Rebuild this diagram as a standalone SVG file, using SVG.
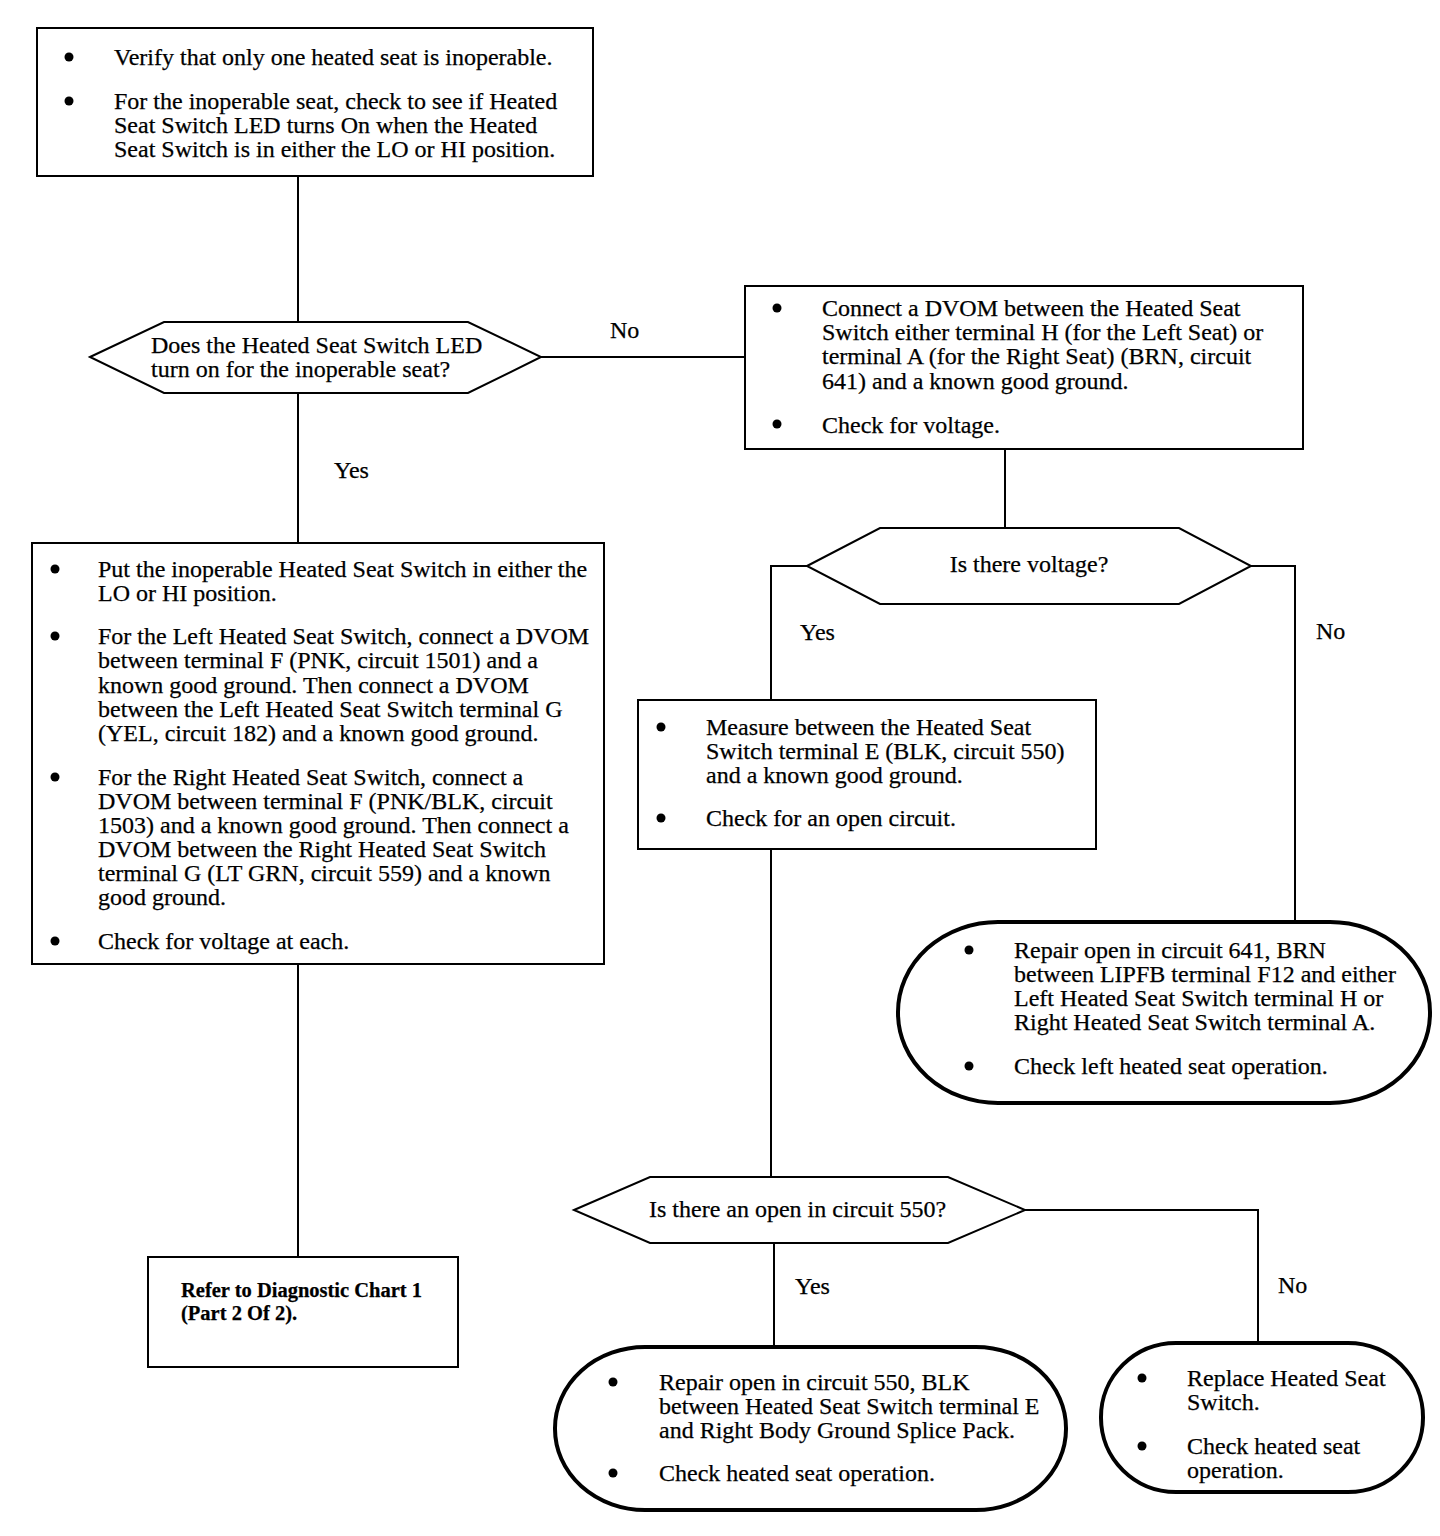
<svg xmlns="http://www.w3.org/2000/svg" width="1440" height="1536" viewBox="0 0 1440 1536">
<defs>
<style>
.bx{fill:#fff;stroke:#000;stroke-width:2}
.ov{fill:#fff;stroke:#000;stroke-width:4}
.cn{fill:none;stroke:#000;stroke-width:2}
text{font-family:"Liberation Serif","Times New Roman",serif;font-size:24px;fill:#000;stroke:#000;stroke-width:0.25}
.b{font-weight:bold;font-size:20.5px}
.dot{fill:#000}
</style>
</defs>
<rect width="1440" height="1536" fill="#fff"/>
<g id="connectors">
<path class="cn" d="M298,176 V322"/>
<path class="cn" d="M298,393 V543"/>
<path class="cn" d="M541,357 H745"/>
<path class="cn" d="M1005,449 V528"/>
<path class="cn" d="M807,566 H771 V700"/>
<path class="cn" d="M1251,566 H1295 V922"/>
<path class="cn" d="M771,849 V1177"/>
<path class="cn" d="M298,964 V1257"/>
<path class="cn" d="M774,1243 V1347"/>
<path class="cn" d="M1025,1210 H1258 V1343"/>
<text x="610" y="338">No</text>
<text x="334" y="478">Yes</text>
<text x="800" y="640">Yes</text>
<text x="1316" y="639">No</text>
<text x="795" y="1294">Yes</text>
<text x="1278" y="1293">No</text>
</g>
<g id="start">
<rect class="bx" x="37" y="28" width="556" height="148"/>
<circle class="dot" cx="69" cy="57" r="4.5"/>
<text x="114" y="65">Verify that only one heated seat is inoperable.</text>
<circle class="dot" cx="69" cy="101" r="4.5"/>
<text x="114" y="109">For the inoperable seat, check to see if Heated</text>
<text x="114" y="133">Seat Switch LED turns On when the Heated</text>
<text x="114" y="157">Seat Switch is in either the LO or HI position.</text>
</g>
<g id="q1">
<polygon class="bx" points="90,357 164,322 468,322 541,357 468,393 164,393"/>
<text x="151" y="353">Does the Heated Seat Switch LED</text>
<text x="151" y="377">turn on for the inoperable seat?</text>
</g>
<g id="dvom641">
<rect class="bx" x="745" y="286" width="558" height="163"/>
<circle class="dot" cx="777" cy="308" r="4.5"/>
<text x="822" y="316">Connect a DVOM between the Heated Seat</text>
<text x="822" y="340">Switch either terminal H (for the Left Seat) or</text>
<text x="822" y="364">terminal A (for the Right Seat) (BRN, circuit</text>
<text x="822" y="389">641) and a known good ground.</text>
<circle class="dot" cx="777" cy="424" r="4.5"/>
<text x="822" y="433">Check for voltage.</text>
</g>
<g id="q2">
<polygon class="bx" points="807,566 880,528 1179,528 1251,566 1179,604 880,604"/>
<text x="1029" y="572" text-anchor="middle">Is there voltage?</text>
</g>
<g id="checkvolt">
<rect class="bx" x="32" y="543" width="572" height="421"/>
<circle class="dot" cx="55" cy="569" r="4.5"/>
<text x="98" y="577">Put the inoperable Heated Seat Switch in either the</text>
<text x="98" y="601">LO or HI position.</text>
<circle class="dot" cx="55" cy="636" r="4.5"/>
<text x="98" y="644">For the Left Heated Seat Switch, connect a DVOM</text>
<text x="98" y="668">between terminal F (PNK, circuit 1501) and a</text>
<text x="98" y="693">known good ground. Then connect a DVOM</text>
<text x="98" y="717">between the Left Heated Seat Switch terminal G</text>
<text x="98" y="741">(YEL, circuit 182) and a known good ground.</text>
<circle class="dot" cx="55" cy="777" r="4.5"/>
<text x="98" y="785">For the Right Heated Seat Switch, connect a</text>
<text x="98" y="809">DVOM between terminal F (PNK/BLK, circuit</text>
<text x="98" y="833">1503) and a known good ground. Then connect a</text>
<text x="98" y="857">DVOM between the Right Heated Seat Switch</text>
<text x="98" y="881">terminal G (LT GRN, circuit 559) and a known</text>
<text x="98" y="905">good ground.</text>
<circle class="dot" cx="55" cy="941" r="4.5"/>
<text x="98" y="949">Check for voltage at each.</text>
</g>
<g id="refer">
<rect class="bx" x="148" y="1257" width="310" height="110"/>
<text class="b" x="181" y="1297">Refer to Diagnostic Chart 1</text>
<text class="b" x="181" y="1320">(Part 2 Of 2).</text>
</g>
<g id="measure550">
<rect class="bx" x="638" y="700" width="458" height="149"/>
<circle class="dot" cx="661" cy="727" r="4.5"/>
<text x="706" y="735">Measure between the Heated Seat</text>
<text x="706" y="759">Switch terminal E (BLK, circuit 550)</text>
<text x="706" y="783">and a known good ground.</text>
<circle class="dot" cx="661" cy="818" r="4.5"/>
<text x="706" y="826">Check for an open circuit.</text>
</g>
<g id="repair641">
<rect class="ov" x="898" y="922" width="532" height="181" rx="100" ry="90"/>
<circle class="dot" cx="969" cy="950" r="4.5"/>
<text x="1014" y="958">Repair open in circuit 641, BRN</text>
<text x="1014" y="982">between LIPFB terminal F12 and either</text>
<text x="1014" y="1006">Left Heated Seat Switch terminal H or</text>
<text x="1014" y="1030">Right Heated Seat Switch terminal A.</text>
<circle class="dot" cx="969" cy="1066" r="4.5"/>
<text x="1014" y="1074">Check left heated seat operation.</text>
</g>
<g id="q3">
<polygon class="bx" points="574,1210 650,1177 948,1177 1025,1210 948,1243 650,1243"/>
<text x="649" y="1217">Is there an open in circuit 550?</text>
</g>
<g id="repair550">
<rect class="ov" x="555" y="1347" width="511" height="163" rx="90" ry="81"/>
<circle class="dot" cx="613" cy="1382" r="4.5"/>
<text x="659" y="1390">Repair open in circuit 550, BLK</text>
<text x="659" y="1414">between Heated Seat Switch terminal E</text>
<text x="659" y="1438">and Right Body Ground Splice Pack.</text>
<circle class="dot" cx="613" cy="1473" r="4.5"/>
<text x="659" y="1481">Check heated seat operation.</text>
</g>
<g id="replace">
<rect class="ov" x="1101" y="1343" width="322" height="149" rx="75" ry="74"/>
<circle class="dot" cx="1142" cy="1378" r="4.5"/>
<text x="1187" y="1386">Replace Heated Seat</text>
<text x="1187" y="1410">Switch.</text>
<circle class="dot" cx="1142" cy="1446" r="4.5"/>
<text x="1187" y="1454">Check heated seat</text>
<text x="1187" y="1478">operation.</text>
</g>
</svg>
